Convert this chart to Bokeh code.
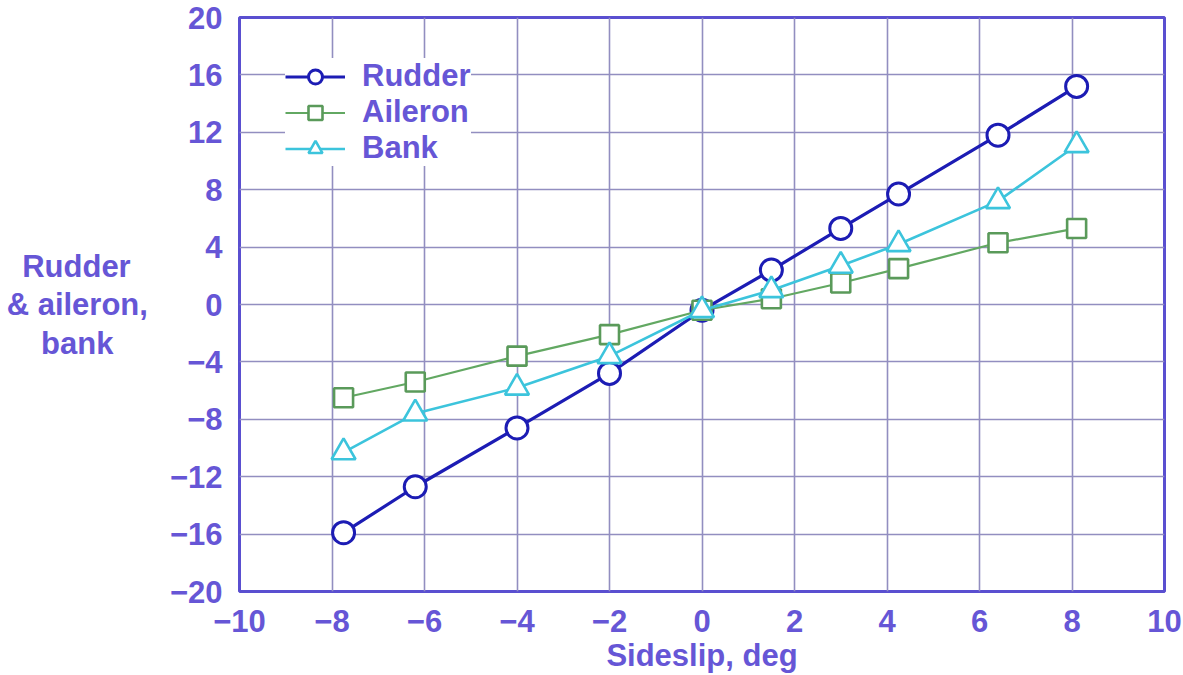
from bokeh.plotting import figure
from bokeh.models import FixedTicker, Range1d, Legend, LegendItem
from bokeh.embed import file_html
from bokeh.resources import INLINE

sideslip = [-7.75, -6.2, -4.0, -2.0, 0.0, 1.5, 3.0, 4.25, 6.4, 8.1]
rudder = [-15.9, -12.7, -8.6, -4.8, -0.4, 2.4, 5.3, 7.7, 11.8, 15.2]
aileron = [-6.5, -5.4, -3.6, -2.1, -0.4, 0.4, 1.5, 2.5, 4.3, 5.3]
bank = [-10.3, -7.6, -5.8, -3.6, -0.4, 1.0, 2.7, 4.2, 7.2, 11.1]

x_ticks = [-10, -8, -6, -4, -2, 0, 2, 4, 6, 8, 10]
x_tick_labels = ["\u221210", "\u22128", "\u22126", "\u22124", "\u22122", "0", "2", "4", "6", "8", "10"]
y_ticks = [-20, -16, -12, -8, -4, 0, 4, 8, 12, 16, 20]
y_tick_labels = ["\u221220", "\u221216", "\u221212", "\u22128", "\u22124", "0", "4", "8", "12", "16", "20"]

NB = "\u00a0"
y_label_lines = ["Rudder" + NB * 2, "& aileron,", "bank" + NB * 4]

TEXT = "#6656d6"
FRAME = "#5a4fd0"
GRID = "#928ec0"
FONT = "Liberation Sans"
FS = "31px"

p = figure(width=1183, height=675, output_backend="svg", toolbar_location=None,
           x_range=Range1d(-10, 10), y_range=Range1d(-20, 20),
           min_border_left=239, min_border_right=19, min_border_top=17, min_border_bottom=82)

p.outline_line_color = FRAME
p.outline_line_width = 3

for ax in (p.xaxis[0], p.yaxis[0]):
    ax.axis_line_color = None
    ax.major_tick_line_color = None
    ax.minor_tick_line_color = None
    ax.major_label_text_font = FONT
    ax.major_label_text_font_style = "bold"
    ax.major_label_text_font_size = FS
    ax.major_label_text_color = TEXT
    ax.axis_label_text_font = FONT
    ax.axis_label_text_font_style = "bold"
    ax.axis_label_text_font_size = FS
    ax.axis_label_text_color = TEXT

p.xaxis.ticker = FixedTicker(ticks=x_ticks)
p.xaxis.major_label_overrides = dict(zip(x_ticks, x_tick_labels))
p.yaxis.ticker = FixedTicker(ticks=y_ticks)
p.yaxis.major_label_overrides = dict(zip(y_ticks, y_tick_labels))
p.xaxis.major_label_standoff = 12
p.yaxis.major_label_standoff = 11
p.xaxis.axis_label = "Sideslip, deg"
p.xaxis.axis_label_standoff = 3

p.yaxis.axis_label = "\n".join(y_label_lines)
p.yaxis.axis_label_orientation = "horizontal"
p.yaxis.axis_label_standoff = 19
p.yaxis.axis_label_text_line_height = 1.1

p.xgrid.ticker = FixedTicker(ticks=x_ticks)
p.ygrid.ticker = FixedTicker(ticks=y_ticks)
p.grid.grid_line_color = GRID
p.grid.grid_line_width = 1.6

r_line = p.line(sideslip, rudder, line_color="#1c1cb4", line_width=3.2)
r_mark = p.scatter(sideslip, rudder, marker="circle", size=22, fill_color="white",
                   line_color="#1c1cb4", line_width=3)
a_line = p.line(sideslip, aileron, line_color="#62a862", line_width=2.2)
a_mark = p.scatter(sideslip, aileron, marker="square", size=19, fill_color="white",
                   line_color="#5a9a5a", line_width=2.6)
b_line = p.line(sideslip, bank, line_color="#3cc4dc", line_width=2.6)
b_mark = p.scatter(sideslip, bank, marker="triangle", size=24, fill_color="white",
                   line_color="#3cc4dc", line_width=2.6)

legend = Legend(items=[
    LegendItem(label="Rudder", renderers=[r_line, r_mark]),
    LegendItem(label="Aileron", renderers=[a_line, a_mark]),
    LegendItem(label="Bank", renderers=[b_line, b_mark]),
], location=(46, 425))
legend.margin = 0
legend.padding = 10
legend.spacing = 0
legend.glyph_width = 60
legend.glyph_height = 35
legend.label_height = 35
legend.label_standoff = 17
legend.label_text_font = FONT
legend.label_text_font_style = "bold"
legend.label_text_font_size = FS
legend.label_text_color = TEXT
legend.border_line_color = None
legend.background_fill_color = "white"
legend.background_fill_alpha = 1.0
p.add_layout(legend)

open("out.html", "w").write(file_html(p, INLINE))
